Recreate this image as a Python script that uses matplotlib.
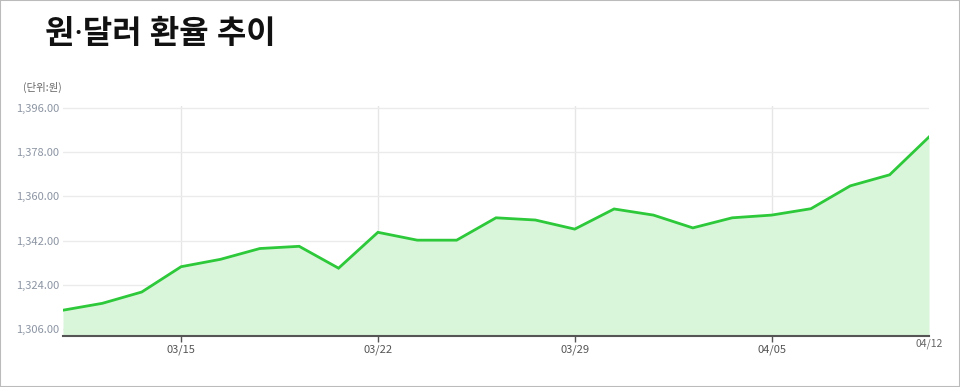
import matplotlib
matplotlib.use("Agg")
import matplotlib.pyplot as plt
from matplotlib.patches import Rectangle

plt.rcParams['font.family'] = ['Noto Sans CJK KR', 'DejaVu Sans']

# trading days 03/12 .. 04/12
dates = ["03/12", "03/13", "03/14", "03/15", "03/18", "03/19", "03/20", "03/21",
         "03/22", "03/25", "03/26", "03/27", "03/28", "03/29", "04/01", "04/02",
         "04/03", "04/04", "04/05", "04/08", "04/09", "04/10", "04/12"]
rates = [1313.7, 1316.5, 1321.1, 1331.4, 1334.4, 1338.8, 1339.7, 1330.8,
         1345.4, 1342.2, 1342.2, 1351.3, 1350.4, 1346.7, 1354.9, 1352.4,
         1347.2, 1351.3, 1352.4, 1355.0, 1364.3, 1368.8, 1384.2]
label_dates = ["03/15", "03/22", "03/29", "04/05"]
yticks = [1306, 1324, 1342, 1360, 1378, 1396]

fig = plt.figure(figsize=(9.6, 3.87), dpi=100)
ax = fig.add_axes([63 / 960, 1 - 336 / 387, 866 / 960, 230 / 387])

x = list(range(len(dates)))
ymin, ymax = 1303.2, 1396.8
ax.fill_between(x, rates, ymin, color="#d9f5da", lw=0)
ax.plot(x, rates, color="#2dc93a", lw=2, solid_joinstyle="miter", zorder=3)

ax.set_xlim(0, len(dates) - 1)
ax.set_ylim(ymin, ymax)

ax.set_yticks(yticks)
ax.set_yticklabels([f"{v:,.2f}" for v in yticks])
ax.tick_params(axis="y", length=0, pad=3, labelsize=8, labelcolor="#8c95a3")
ax.grid(axis="y", color="#ebebeb", lw=1)

xt = [dates.index(d) for d in label_dates]
ax.set_xticks(xt)
ax.set_xticklabels(label_dates)
ax.tick_params(axis="x", length=4, width=1, color="#555555", pad=2,
               labelsize=8, labelcolor="#555555")
for v in xt:
    ax.axvline(v, color="#e6e6e6", lw=1, zorder=0)
ax.text(len(dates) - 1, ymin - 1.2, dates[-1], ha="center", va="top",
        fontsize=7.5, color="#666666")

for s in ["top", "right", "left"]:
    ax.spines[s].set_visible(False)
ax.spines["bottom"].set_color("#555555")
ax.spines["bottom"].set_linewidth(1.5)
ax.set_axisbelow(True)

fig.text(45 / 960, 1 - 34 / 387, "원·달러 환율 추이", fontsize=23,
         fontweight="bold", va="center", ha="left", color="#111111",
         family=["Noto Sans", "Noto Sans CJK KR"])
fig.text(23 / 960, 1 - 87 / 387, "(단위:원)", fontsize=7.5, va="center",
         ha="left", color="#666666")

fig.patches.append(Rectangle((0, 0), 1, 1, transform=fig.transFigure,
                             fill=False, edgecolor="#bbbbbb", lw=1.5))

fig.savefig("out.png", dpi=100)
